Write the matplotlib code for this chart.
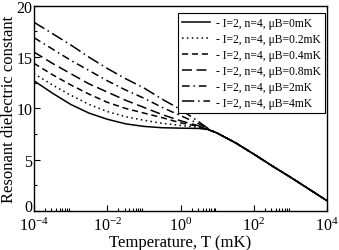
import matplotlib
matplotlib.use('Agg')
import matplotlib.pyplot as plt
import numpy as np
from matplotlib.ticker import FixedLocator, MultipleLocator

plt.rcParams['font.family'] = ['Liberation Serif', 'DejaVu Serif']
plt.rcParams['mathtext.fontset'] = 'custom'
plt.rcParams['mathtext.rm'] = 'Liberation Serif'

# log10 of temperature (mK) where values were read
logT = [-4, -3.5, -3, -2.5, -2, -1.5, -1, -0.5, 0, 0.5, 0.75,
        1, 1.5, 2, 2.5, 3, 3.5, 4]

# common high-temperature tail
tail = [7.6, 6.65, 5.55, 4.4, 3.3, 2.15, 1.0]

eps_0 = [12.7, 11.5, 10.4, 9.55, 8.95, 8.5, 8.25, 8.12, 8.08, 8.05, 7.95] + tail
eps_02 = [13.4, 12.3, 11.3, 10.4, 9.7, 9.2, 8.85, 8.55, 8.35, 8.15, 7.95] + tail
eps_04 = [14.4, 13.3, 12.3, 11.4, 10.6, 10.0, 9.55, 9.1, 8.6, 8.25, 7.95] + tail
eps_08 = [15.5, 14.4, 13.4, 12.4, 11.6, 10.8, 10.1, 9.4, 8.8, 8.3, 7.95] + tail
eps_2 = [16.9, 15.8, 14.7, 13.7, 12.7, 11.8, 11.0, 10.1, 9.3, 8.5, 8.0] + tail
eps_4 = [18.4, 17.3, 16.2, 15.0, 13.9, 12.9, 12.0, 10.9, 9.9, 8.7, 8.05] + tail

labels = ['- I=2, n=4, μB=0mK', '- I=2, n=4, μB=0.2mK', '- I=2, n=4, μB=0.4mK',
          '- I=2, n=4, μB=0.8mK', '- I=2, n=4, μB=2mK', '- I=2, n=4, μB=4mK']

series = [eps_0, eps_02, eps_04, eps_08, eps_2, eps_4]
styles = ['-', (0, (1, 2.2)), (0, (4, 2.5)), (0, (6.5, 3)),
          (0, (5, 2.5, 1, 2.5)), (0, (8, 2.5, 1, 2.5))]

T = 10.0 ** np.array(logT)

fig = plt.figure(figsize=(3.39, 2.51), dpi=100)
ax = fig.add_axes([0.100, 0.155, 0.865, 0.818])

for y, ls, lab in zip(series, styles, labels):
    ax.plot(T, y, color='k', lw=1.1, linestyle=ls, label=lab)

ax.set_xscale('log')
ax.set_xlim(1e-4, 1e4)
ax.set_ylim(0, 20)

ax.xaxis.set_major_locator(FixedLocator([1e-4, 1e-2, 1e0, 1e2, 1e4]))
minors = [k * 10.0 ** e for e in (-4, -2, 0, 2) for k in range(2, 10)]
ax.xaxis.set_minor_locator(FixedLocator(minors))
ax.set_xticklabels([r'$\mathregular{10^{-4}}$', r'$\mathregular{10^{-2}}$',
                    r'$\mathregular{10^{0}}$', r'$\mathregular{10^{2}}$',
                    r'$\mathregular{10^{4}}$'])
ax.yaxis.set_major_locator(FixedLocator([0, 5, 10, 15, 20]))
ax.yaxis.set_minor_locator(MultipleLocator(2.5))

ax.tick_params(which='both', direction='in', top=False, right=False,
               labelsize=11.5, width=0.8)
ax.tick_params(which='major', length=4)
ax.tick_params(axis='x', which='major', pad=4)
ax.tick_params(axis='y', which='major', pad=1)
ax.tick_params(which='minor', length=2)
for s in ax.spines.values():
    s.set_linewidth(1.0)

# sit the "0" on the axis line so it clears the 10^-4 label
ax.yaxis.get_major_ticks()[0].label1.set_verticalalignment('baseline')

ax.set_xlabel('Temperature, T (mK)', fontsize=12, labelpad=0)
ax.set_ylabel('Resonant dielectric constant', fontsize=12, labelpad=0)

leg = ax.legend(loc='upper right', bbox_to_anchor=(0.993, 0.964), fontsize=8.4,
                frameon=True, fancybox=False, edgecolor='k', framealpha=1,
                handlelength=2.4, handletextpad=0.5, labelspacing=0.33,
                borderpad=0.35, borderaxespad=0)
leg.get_frame().set_linewidth(0.8)

fig.savefig('out.png', dpi=100)
